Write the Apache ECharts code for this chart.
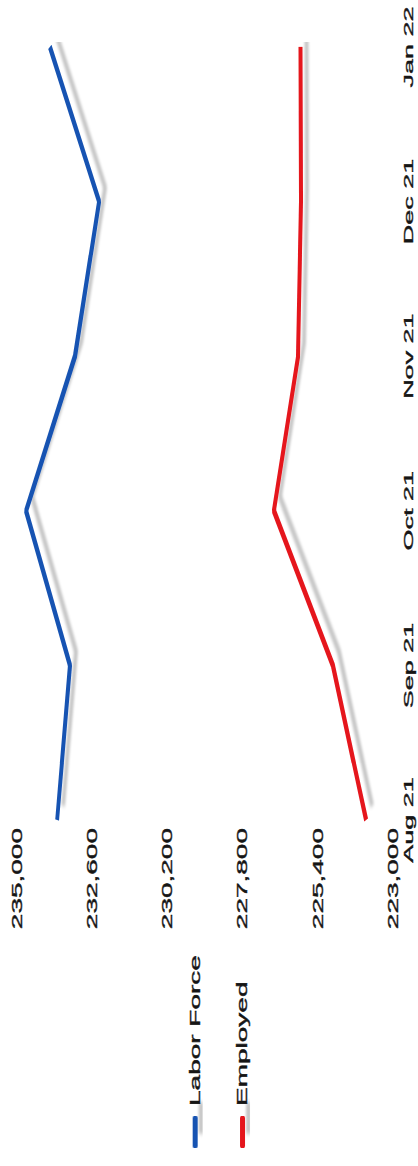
<!DOCTYPE html>
<html>
<head>
<meta charset="utf-8">
<script src="https://cdn.jsdelivr.net/npm/echarts@6/dist/echarts.min.js"></script>
<style>
  html, body { margin: 0; padding: 0; background: #ffffff; overflow: hidden; width: 418px; height: 1166px; }
  #main {
    position: absolute; left: 0; top: 0;
    width: 583px; height: 418px;
    transform-origin: 0 0;
    transform: translateY(1166px) rotate(-90deg) scaleX(2);
  }
</style>
</head>
<body>
<div id="main"></div>
<script>
const categories = ['Aug 21', 'Sep 21', 'Oct 21', 'Nov 21', 'Dec 21', 'Jan 22'];
const laborForce = [233720, 233310, 234710, 233150, 232380, 233950];
const employed = [223860, 224920, 226800, 226030, 225940, 225950];
const seriesNames = ['Labor Force', 'Employed'];
const valueMin = 223000;
const valueMax = 235000;
const valueStep = 2400;

const chart = echarts.init(document.getElementById('main'), null, { renderer: 'svg' });
const shadow = { shadowColor: 'rgba(0,0,0,0.22)', shadowBlur: 2, shadowOffsetX: 7, shadowOffsetY: 6 };
const txt = { color: '#151515', textBorderColor: '#151515', textBorderWidth: 0.35 };
chart.setOption({
  animation: false,
  backgroundColor: '#ffffff',
  color: ['#1752b2', '#e5141d'],
  textStyle: { fontFamily: 'Liberation Sans, Arial, sans-serif' },
  legend: {
    orient: 'vertical',
    left: 4,
    top: 183,
    itemWidth: 16,
    itemHeight: 5,
    itemGap: 33,
    icon: 'roundRect',
    data: seriesNames,
    textStyle: Object.assign({ fontSize: 14, padding: [0, 0, 0, 0] }, txt),
    itemStyle: shadow
  },
  grid: { left: 173, right: 21.5, top: 17, bottom: 25, containLabel: false },
  xAxis: {
    type: 'category',
    data: categories,
    boundaryGap: false,
    axisLine: { show: false },
    axisTick: { show: false },
    axisLabel: Object.assign({ fontSize: 13.5, margin: 9 }, txt),
    splitLine: { show: false }
  },
  yAxis: {
    type: 'value',
    min: valueMin,
    max: valueMax,
    interval: valueStep,
    axisLine: { show: false },
    axisTick: { show: false },
    splitLine: { show: false },
    axisLabel: Object.assign({ fontSize: 14, margin: 4 }, txt)
  },
  series: [
    {
      name: seriesNames[0], type: 'line', data: laborForce, symbol: 'none',
      lineStyle: Object.assign({ width: 4, color: '#1752b2' }, shadow)
    },
    {
      name: seriesNames[1], type: 'line', data: employed, symbol: 'none',
      lineStyle: Object.assign({ width: 4, color: '#e5141d' }, shadow)
    }
  ]
});
</script>
</body>
</html>
